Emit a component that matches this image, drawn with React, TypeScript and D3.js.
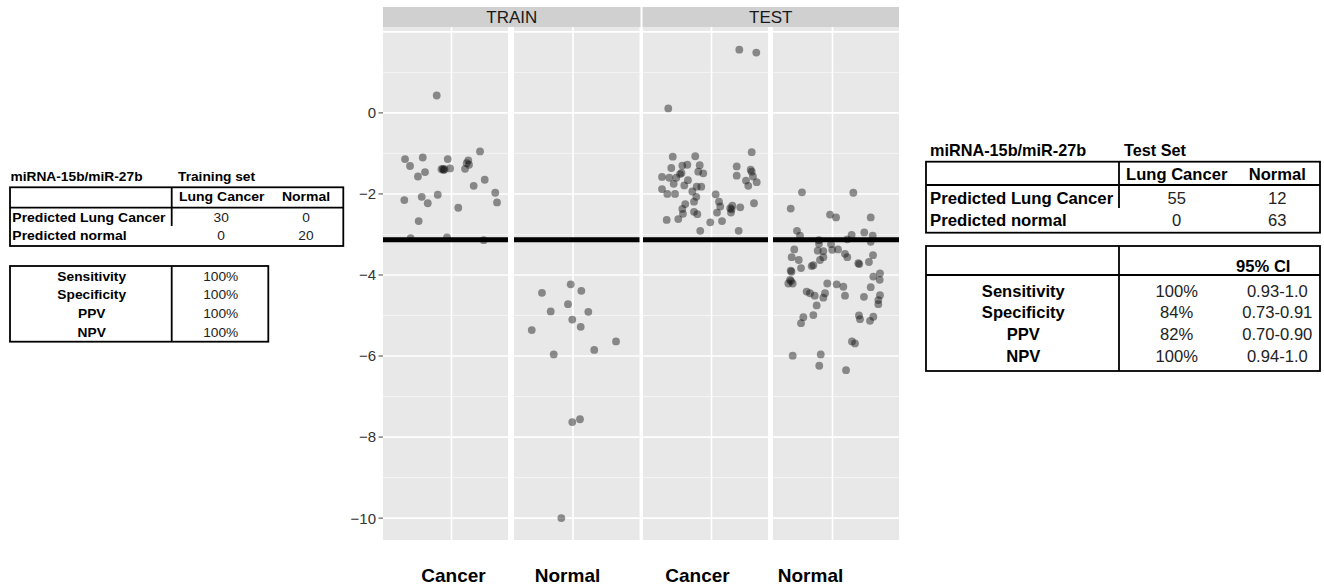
import React from "react";
import * as d3 from "d3";

// ---------- DATA ----------
const yTicks = [0, -2, -4, -6, -8, -10];
const yGridMajor = [2, 0, -2, -4, -6, -8, -10];
const yGridMinor = [1, -1, -3, -5, -7, -9];
const threshold = -3.13;
const facets = ["TRAIN", "TEST"];
const categories = ["Cancer", "Normal"];

// [jittered x position (category = 1), value]
const trainCancer: [number, number][] = [
  [0.858, 0.43], [0.554, -1.14], [0.602, -1.31], [0.724, -1.1], [0.964, -1.14],
  [1.274, -0.95], [1.161, -1.17], [1.146, -1.24], [1.168, -1.28], [0.678, -1.57],
  [0.746, -1.46], [0.904, -1.39], [0.933, -1.39], [0.918, -1.38], [0.986, -1.37],
  [1.13, -1.38], [1.213, -1.8], [1.319, -1.65], [1.42, -1.97], [1.437, -2.21],
  [0.547, -2.15], [0.714, -2.07], [0.772, -2.23], [0.868, -2.02], [1.065, -2.34],
  [0.685, -2.67], [0.608, -3.09], [0.957, -3.07], [1.309, -3.14], [0.925, -1.41],
];
const trainNormal: [number, number][] = [
  [0.978, -4.23], [0.702, -4.44], [1.08, -4.39], [0.952, -4.72], [0.786, -4.9],
  [1.147, -4.91], [0.993, -5.1], [1.074, -5.28], [0.604, -5.36], [1.413, -5.64],
  [1.204, -5.85], [0.815, -5.96], [0.993, -7.63], [1.067, -7.56], [0.888, -10.0],
];
const testCancer: [number, number][] = [
  [1.267, 1.56], [1.43, 1.49], [0.585, 0.11], [1.386, -0.97], [0.628, -1.08],
  [0.844, -1.07], [0.614, -1.36], [0.72, -1.3], [0.768, -1.28], [0.887, -1.29],
  [0.873, -1.45], [0.921, -1.49], [0.698, -1.51], [0.712, -1.48], [0.525, -1.58],
  [0.595, -1.6], [0.662, -1.6], [0.774, -1.66], [0.637, -1.75], [0.525, -1.88],
  [0.576, -2.0], [0.65, -2.0], [0.739, -1.79], [0.858, -1.82], [0.902, -1.82],
  [0.816, -1.94], [0.854, -2.07], [0.832, -2.19], [0.748, -2.25], [0.72, -2.37],
  [0.726, -2.49], [0.832, -2.44], [0.864, -2.5], [1.04, -2.01], [1.072, -2.19],
  [1.084, -2.31], [1.053, -2.46], [1.18, -2.35], [1.192, -2.38], [1.2, -2.29],
  [1.187, -2.46], [1.276, -2.33], [1.242, -1.32], [1.242, -1.55], [1.386, -1.45],
  [1.376, -1.4], [1.398, -1.57], [1.331, -1.67], [1.434, -1.71], [1.353, -1.8],
  [1.408, -2.23], [0.57, -2.64], [0.681, -2.62], [0.988, -2.7], [1.101, -2.67],
  [0.892, -2.91], [1.261, -2.91],
];
const testNormal: [number, number][] = [
  [0.707, -1.96], [1.2, -1.97], [0.599, -2.36], [0.976, -2.51], [1.034, -2.58],
  [1.367, -2.58], [0.659, -2.91], [0.688, -3.03], [1.305, -2.95], [1.386, -3.03],
  [1.184, -3.01], [1.142, -3.12], [0.87, -3.14], [0.87, -3.23], [0.986, -3.24],
  [1.367, -3.18], [0.633, -3.37], [0.858, -3.4], [0.912, -3.41], [0.998, -3.38],
  [1.053, -3.37], [1.12, -3.48], [1.142, -3.56], [0.608, -3.56], [0.676, -3.63],
  [0.912, -3.56], [0.88, -3.63], [1.389, -3.51], [1.35, -3.68], [1.248, -3.71],
  [1.257, -3.73], [0.816, -3.76], [0.8, -3.78], [0.698, -3.83], [0.599, -3.89],
  [0.606, -3.92], [0.592, -4.12], [0.602, -4.15], [0.618, -4.21], [0.576, -4.21],
  [1.456, -3.96], [1.392, -4.04], [1.453, -4.12], [0.95, -4.21], [1.04, -4.23],
  [1.104, -4.29], [1.367, -4.3], [0.752, -4.41], [0.784, -4.45], [0.829, -4.51],
  [0.928, -4.45], [0.912, -4.56], [1.12, -4.51], [1.302, -4.54], [1.456, -4.5],
  [1.44, -4.62], [1.44, -4.72], [0.848, -4.75], [0.816, -4.99], [0.72, -5.04],
  [0.698, -5.19], [1.254, -5.0], [1.264, -5.09], [1.392, -5.03], [1.36, -5.13],
  [1.187, -5.64], [1.216, -5.69], [0.618, -5.99], [0.887, -5.96], [0.873, -6.24],
  [1.13, -6.35],
];

// tables
const trainTitle = ["miRNA-15b/miR-27b", "Training set"];
const confHeader = ["Lung Cancer", "Normal"];
const confRowLabels = ["Predicted Lung Cancer", "Predicted normal"];
const trainConf = [["30", "0"], ["0", "20"]];
const metricLabels = ["Sensitivity", "Specificity", "PPV", "NPV"];
const trainMetrics = ["100%", "100%", "100%", "100%"];
const testTitle = ["miRNA-15b/miR-27b", "Test Set"];
const testConf = [["55", "12"], ["0", "63"]];
const ciHeader = "95% CI";
const testMetrics = ["100%", "84%", "82%", "100%"];
const testCI = ["0.93-1.0", "0.73-0.91", "0.70-0.90", "0.94-1.0"];

// ---------- LAYOUT ----------
const FONT = "'Liberation Sans', Arial, sans-serif";
const PANEL_TOP = 27;
const PANEL_BOTTOM = 540;
const y = d3.scaleLinear().domain([-10.54, 2.12]).range([PANEL_BOTTOM, PANEL_TOP]);

const panels = [
  { left: 383, right: 508, gx: 451.5, data: trainCancer },
  { left: 514, right: 639.5, gx: 573, data: trainNormal },
  { left: 643, right: 768, gx: 711.5, data: testCancer },
  { left: 773, right: 899, gx: 832.5, data: testNormal },
];
const strips = [
  { left: 383, right: 640.5 },
  { left: 642.5, right: 899 },
];
const xLabelPos = [453.5, 567.5, 697.5, 810.5];

function T({ x, y, children, size, bold, anchor = "start", sx = 1, fill = "#000" }: any) {
  return (
    <text
      transform={`translate(${x},${y}) scale(${sx},1)`}
      fontSize={size}
      fontWeight={bold ? "bold" : "normal"}
      textAnchor={anchor}
      fill={fill}
      fontFamily={FONT}
    >
      {children}
    </text>
  );
}

export default function App() {
  return (
    <svg
      width={1324}
      height={588}
      style={{ position: "absolute", left: 0, top: 0, background: "#fff" }}
    >
      {/* strips */}
      {strips.map((s, i) => (
        <g key={"s" + i}>
          <rect x={s.left} y={7} width={s.right - s.left} height={PANEL_TOP - 7} fill="#d0d0d0" />
          <text
            x={(s.left + s.right) / 2}
            y={23}
            fontSize={17}
            textAnchor="middle"
            fill="#1a1a1a"
            fontFamily={FONT}
          >
            {facets[i]}
          </text>
        </g>
      ))}

      {/* panels */}
      {panels.map((p, i) => {
        const x = d3.scaleLinear().domain([0.4, 1.6]).range([p.gx - 62.5, p.gx + 62.5]);
        return (
          <g key={"p" + i}>
            <rect
              x={p.left}
              y={PANEL_TOP}
              width={p.right - p.left}
              height={PANEL_BOTTOM - PANEL_TOP}
              fill="#e8e8e8"
            />
            {yGridMinor.map((v) => (
              <line key={"mi" + v} x1={p.left} x2={p.right} y1={y(v)} y2={y(v)} stroke="#f6f6f6" strokeWidth={0.9} />
            ))}
            {yGridMajor.map((v) => (
              <line key={"ma" + v} x1={p.left} x2={p.right} y1={y(v)} y2={y(v)} stroke="#fff" strokeWidth={1.6} />
            ))}
            <line x1={x(1)} x2={x(1)} y1={PANEL_TOP} y2={PANEL_BOTTOM} stroke="#fff" strokeWidth={1.6} />
            {p.data.map((d, j) => (
              <circle key={j} cx={x(d[0])} cy={y(d[1])} r={3.9} fill="#111" fillOpacity={0.45} />
            ))}
            <line x1={p.left} x2={p.right} y1={y(threshold)} y2={y(threshold)} stroke="#000" strokeWidth={5} />
          </g>
        );
      })}

      {/* y axis */}
      {yTicks.map((v) => (
        <g key={"t" + v}>
          <line x1={378.5} x2={383} y1={y(v)} y2={y(v)} stroke="#444" strokeWidth={1} />
          <text
            x={376}
            y={y(v)}
            dy="0.36em"
            fontSize={15}
            textAnchor="end"
            fill="#333"
            fontFamily={FONT}
          >
            {v === 0 ? "0" : "\u2212" + Math.abs(v)}
          </text>
        </g>
      ))}

      {/* x labels */}
      {xLabelPos.map((xp, i) => (
        <text
          key={"xl" + i}
          x={xp}
          y={581.5}
          fontSize={19}
          fontWeight="bold"
          textAnchor="middle"
          fill="#000"
          fontFamily={FONT}
        >
          {categories[i % 2]}
        </text>
      ))}

      {/* ---- Training tables ---- */}
      <g>
        <T x={10.5} y={180.5} size={12.5} bold sx={1.1}>{trainTitle[0]}</T>
        <T x={178} y={180.5} size={12.5} bold sx={1.1}>{trainTitle[1]}</T>
        <rect x={10} y={187.3} width={333.3} height={58.7} fill="none" stroke="#000" strokeWidth={1.8} />
        <line x1={10} x2={343.3} y1={207.7} y2={207.7} stroke="#000" strokeWidth={1.8} />
        <line x1={171.7} x2={171.7} y1={187.3} y2={226} stroke="#000" strokeWidth={1.8} />
        <T x={221.7} y={200.7} size={12.5} bold sx={1.12} anchor="middle">{confHeader[0]}</T>
        <T x={306} y={200.7} size={12.5} bold sx={1.12} anchor="middle">{confHeader[1]}</T>
        {confRowLabels.map((l, i) => (
          <g key={"trc" + i}>
            <T x={12.3} y={221.7 + i * 18.5} size={12.5} bold sx={1.12}>{l}</T>
            <T x={221.2} y={221.7 + i * 18.5} size={12.5} sx={1.1} anchor="middle" fill="#222">{trainConf[i][0]}</T>
            <T x={306} y={221.7 + i * 18.5} size={12.5} sx={1.1} anchor="middle" fill="#222">{trainConf[i][1]}</T>
          </g>
        ))}

        <rect x={10} y={266} width={258.3} height={75.7} fill="none" stroke="#000" strokeWidth={1.8} />
        <line x1={171.7} x2={171.7} y1={266} y2={341.7} stroke="#000" strokeWidth={1.8} />
        {metricLabels.map((l, i) => (
          <g key={"trm" + i}>
            <T x={91.7} y={280.7 + i * 18.7} size={12.5} bold sx={1.1} anchor="middle">{l}</T>
            <T x={220.7} y={280.7 + i * 18.7} size={12.5} sx={1.1} anchor="middle" fill="#222">{trainMetrics[i]}</T>
          </g>
        ))}
      </g>

      {/* ---- Test tables ---- */}
      <g>
        <T x={930} y={156} size={15.8} bold sx={1.03}>{testTitle[0]}</T>
        <T x={1124} y={156} size={15.8} bold sx={1.03}>{testTitle[1]}</T>
        <rect x={926} y={161.7} width={394} height={71} fill="none" stroke="#000" strokeWidth={1.8} />
        <line x1={926} x2={1320} y1={185} y2={185} stroke="#000" strokeWidth={1.8} />
        <line x1={1119} x2={1119} y1={161.7} y2={208} stroke="#000" strokeWidth={1.8} />
        <T x={1176.7} y={180} size={15.8} bold sx={1.05} anchor="middle">{confHeader[0]}</T>
        <T x={1277.3} y={180} size={15.8} bold sx={1.05} anchor="middle">{confHeader[1]}</T>
        {confRowLabels.map((l, i) => (
          <g key={"tec" + i}>
            <T x={930} y={204 + i * 22} size={15.8} bold sx={1.06}>{l}</T>
            <T x={1176.7} y={204 + i * 22} size={15.8} sx={1.05} anchor="middle" fill="#222">{testConf[i][0]}</T>
            <T x={1277.3} y={204 + i * 22} size={15.8} sx={1.05} anchor="middle" fill="#222">{testConf[i][1]}</T>
          </g>
        ))}

        <rect x={926} y={246} width={394} height={125} fill="none" stroke="#000" strokeWidth={1.8} />
        <line x1={926} x2={1320} y1={275} y2={275} stroke="#000" strokeWidth={1.8} />
        <line x1={1119} x2={1119} y1={246} y2={371} stroke="#000" strokeWidth={1.8} />
        <T x={1263.3} y={271.7} size={15.8} bold sx={1.05} anchor="middle">{ciHeader}</T>
        {metricLabels.map((l, i) => (
          <g key={"tem" + i}>
            <T x={1023.3} y={296.7 + i * 21.7} size={15.8} bold sx={1.05} anchor="middle">{l}</T>
            <T x={1176.7} y={296.7 + i * 21.7} size={15.8} sx={1.05} anchor="middle" fill="#222">{testMetrics[i]}</T>
            <T x={1277.3} y={296.7 + i * 21.7} size={15.8} sx={1.05} anchor="middle" fill="#222">{testCI[i]}</T>
          </g>
        ))}
      </g>
    </svg>
  );
}
